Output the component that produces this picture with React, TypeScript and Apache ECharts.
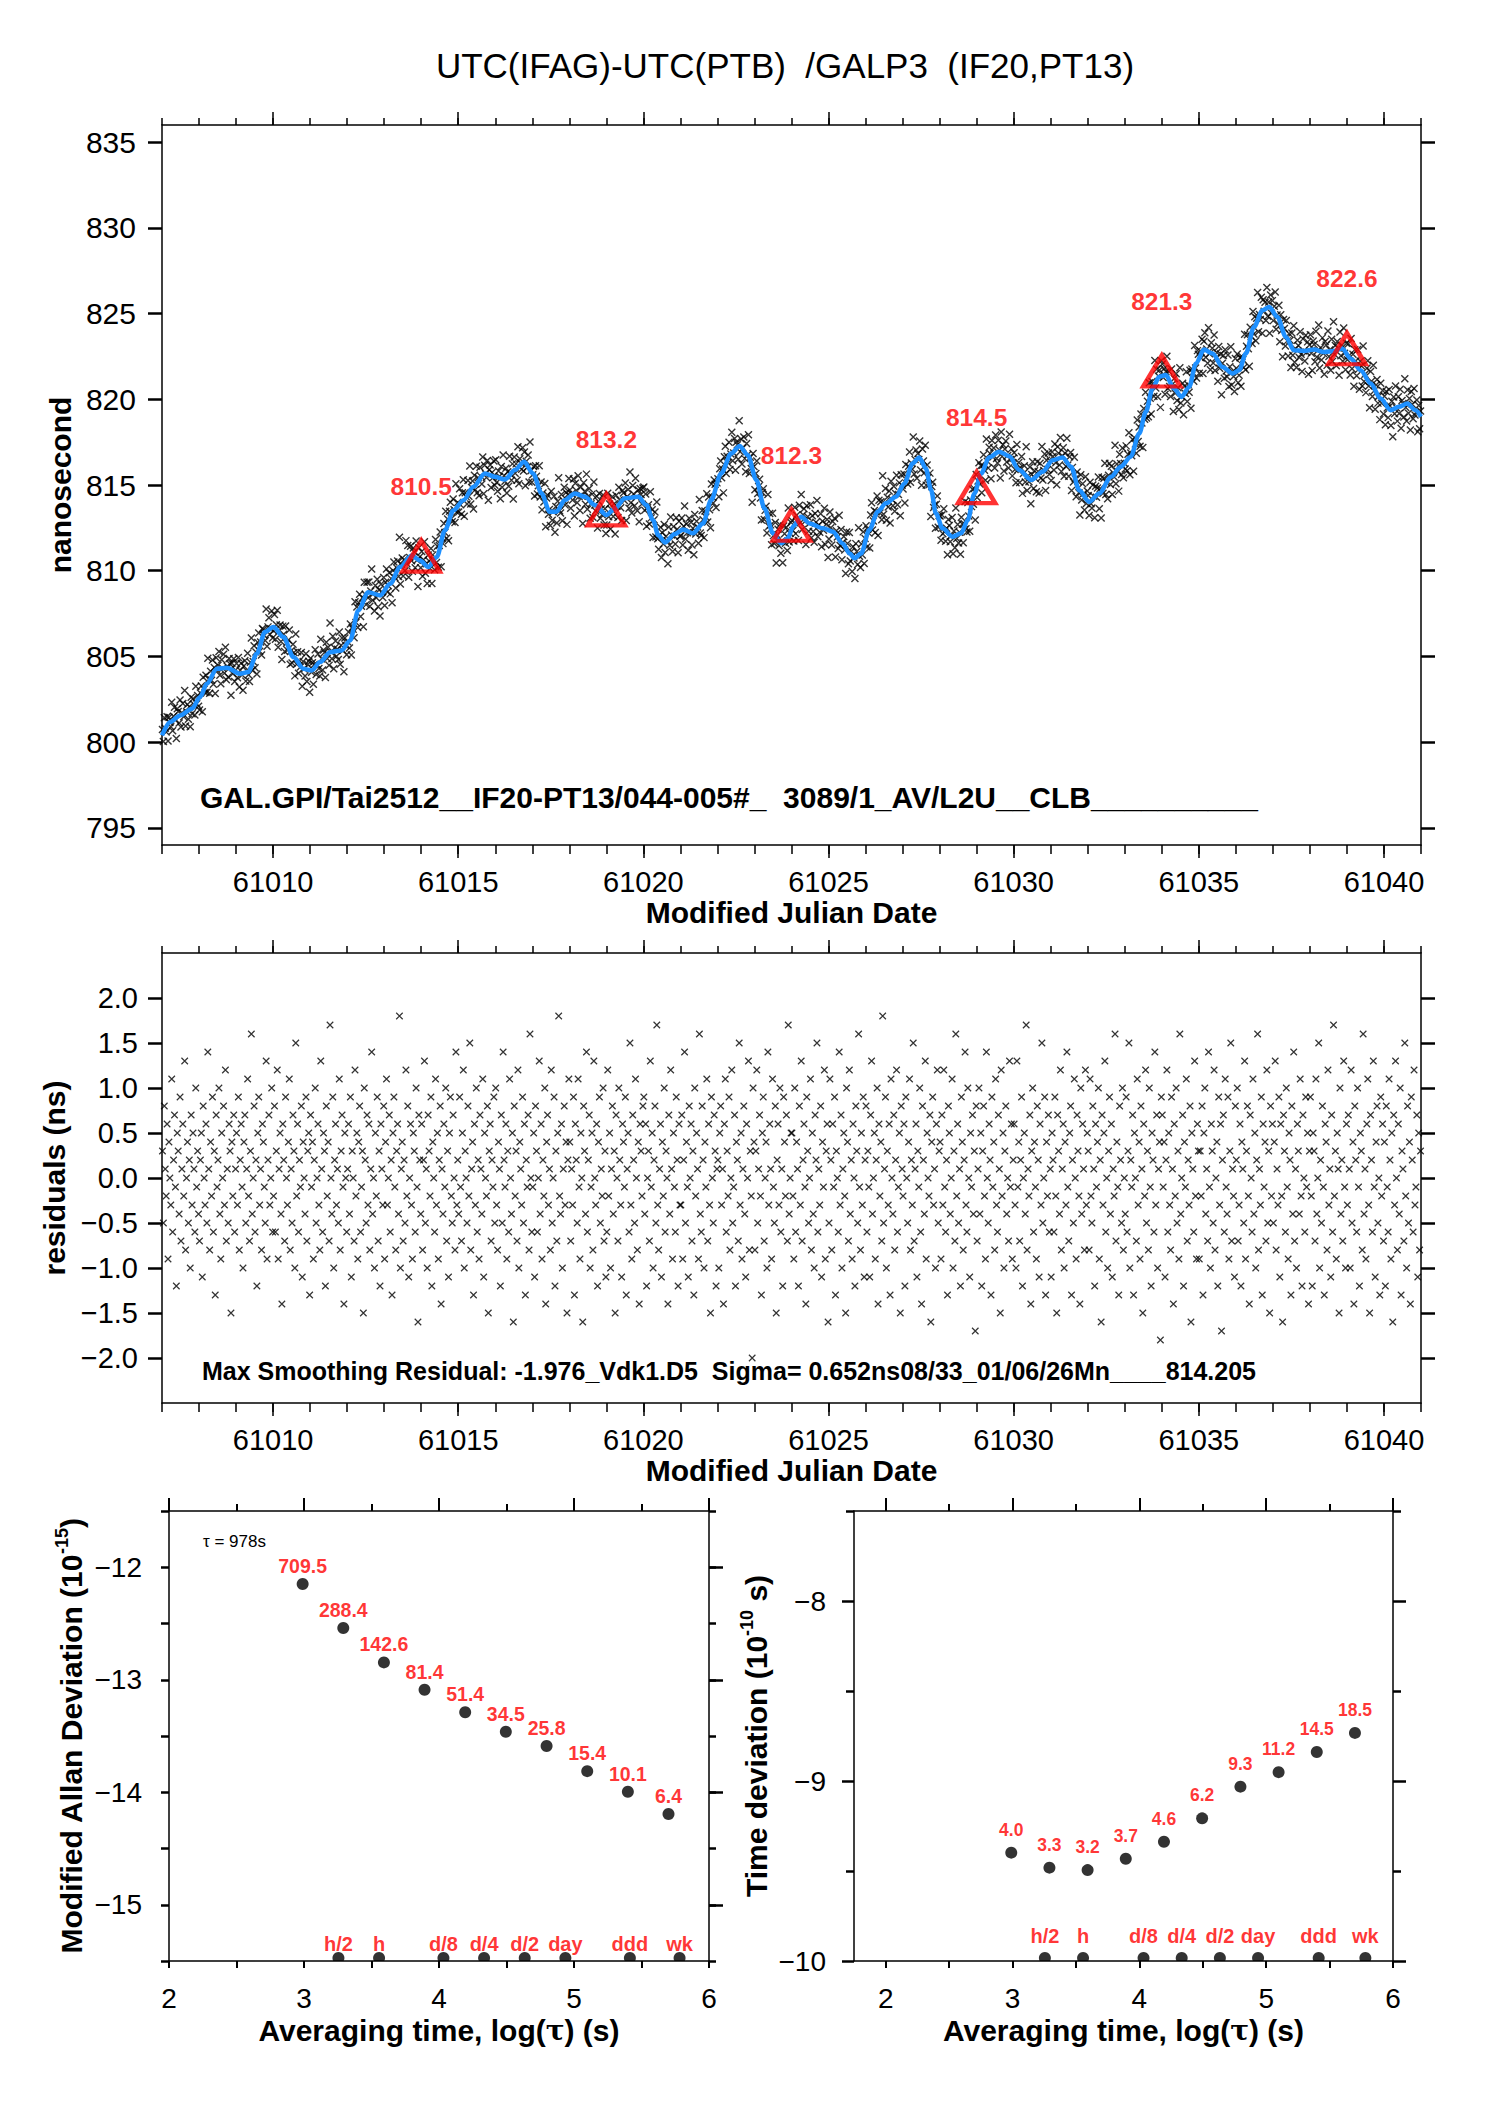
import React, { useEffect, useRef } from "react";
import * as echarts from "echarts";

const FONT = "Liberation Sans";
const MINUS = "\u2212";

const TITLE = "UTC(IFAG)-UTC(PTB)  /GALP3  (IF20,PT13)";
const NOTE_TOP = "GAL.GPI/Tai2512__IF20-PT13/044-005#_  3089/1_AV/L2U__CLB__________";
const NOTE_RES = "Max Smoothing Residual: -1.976_Vdk1.D5  Sigma= 0.652ns08/33_01/06/26Mn____814.205";
const TAU0_NOTE = "\u03c4 = 978s";

const MJD_MIN = 61007;
const MJD_MAX = 61041;
const MJD_LABELS = [61010, 61015, 61020, 61025, 61030, 61035, 61040];
const NS_TICKS = [795, 800, 805, 810, 815, 820, 825, 830, 835];
const RES_TICKS = [-2, -1.5, -1, -0.5, 0, 0.5, 1, 1.5, 2];
const LOGTAU_LABELS = [2, 3, 4, 5, 6];
const LOGTAU_TICKS = [2, 2.5, 3, 3.5, 4, 4.5, 5, 5.5, 6];
const MDEV_Y_LABELS = [-15, -14, -13, -12];
const MDEV_Y_TICKS = [-15.5, -15, -14.5, -14, -13.5, -13, -12.5, -12, -11.5];
const TDEV_Y_LABELS = [-10, -9, -8];
const TDEV_Y_HALF = [-9.5, -8.5, -7.5];

// smoothed curve (MJD, ns)
const SMOOTH_MJD = [61007.00, 61007.22, 61007.49, 61007.81, 61008.03, 61008.21, 61008.48, 61008.75, 61009.11, 61009.33,
  61009.56, 61009.78, 61010.01, 61010.28, 61010.55, 61010.82, 61011.04, 61011.27, 61011.54, 61011.85,
  61012.08, 61012.30, 61012.57, 61012.89, 61013.16, 61013.43, 61013.74, 61013.97, 61014.19, 61014.42,
  61014.64, 61014.87, 61015.14, 61015.41, 61015.72, 61015.99, 61016.26, 61016.53, 61016.78, 61017.02,
  61017.25, 61017.47, 61017.65, 61017.88, 61018.15, 61018.42, 61018.69, 61019.00, 61019.23, 61019.50,
  61019.86, 61020.08, 61020.26, 61020.40, 61020.58, 61020.85, 61021.07, 61021.34, 61021.61, 61021.83,
  61022.10, 61022.37, 61022.60, 61022.82, 61023.05, 61023.27, 61023.50, 61023.72, 61023.90, 61024.05,
  61024.26, 61024.49, 61024.85, 61025.12, 61025.38, 61025.57, 61025.70, 61025.88, 61026.10, 61026.33,
  61026.55, 61026.82, 61027.05, 61027.27, 61027.45, 61027.63, 61027.77, 61027.90, 61028.08, 61028.35,
  61028.58, 61028.76, 61028.94, 61029.12, 61029.34, 61029.61, 61029.88, 61030.15, 61030.47, 61030.78,
  61031.05, 61031.32, 61031.55, 61031.77, 61032.04, 61032.31, 61032.63, 61032.89, 61033.16, 61033.39,
  61033.57, 61033.75, 61033.93, 61034.11, 61034.33, 61034.53, 61034.74, 61034.92, 61035.14, 61035.37,
  61035.64, 61035.91, 61036.09, 61036.27, 61036.49, 61036.72, 61036.90, 61037.12, 61037.35, 61037.57,
  61037.84, 61038.11, 61038.38, 61038.65, 61038.87, 61039.10, 61039.37, 61039.64, 61039.91, 61040.18,
  61040.40, 61040.63, 61040.85, 61041.00];
const SMOOTH_NS = [800.4, 801.17, 801.56, 801.95, 802.63, 803.40, 804.28, 804.34, 803.99, 804.09,
  805.16, 806.42, 806.71, 806.13, 804.96, 804.28, 804.18, 804.67, 805.25, 805.35,
  805.93, 807.68, 808.75, 808.56, 809.24, 810.21, 810.89, 810.60, 810.21, 810.80,
  812.35, 813.52, 814.11, 814.9, 815.67, 815.48, 815.32, 815.87, 816.35, 815.67,
  814.51, 813.44, 813.44, 814.12, 814.51, 814.31, 813.83, 813.25, 813.63, 814.22,
  814.31, 813.83, 812.95, 812.08, 811.65, 812.14, 812.41, 812.18, 812.76, 814.12,
  815.67, 816.84, 817.27, 816.74, 815.29, 813.63, 812.18, 811.60, 811.9, 812.6,
  813.15, 812.76, 812.47, 812.27, 811.59, 811.01, 810.72, 811.01, 812.37, 813.44,
  813.93, 814.31, 815.09, 816.26, 816.61, 815.96, 814.70, 813.34, 812.47, 811.98,
  812.18, 812.95, 814.51, 815.67, 816.61, 816.94, 816.68, 815.87, 815.29, 815.77,
  816.45, 816.61, 816.06, 814.70, 814.02, 814.51, 815.48, 816.06, 816.65, 818.00,
  819.27, 820.63, 821.31, 821.41, 820.63, 820.14, 820.72, 822.08, 822.90, 822.67,
  821.89, 821.50, 821.70, 822.67, 824.22, 825.19, 825.39, 824.80, 823.64, 822.86,
  822.82, 822.90, 822.76, 822.82, 822.96, 822.38, 821.70, 820.92, 820.04, 819.36,
  819.56, 819.75, 819.36, 818.98];

// smoothing residuals, tenths of ns, in time order (evenly spaced epochs)
const RESID_TENTHS = [
  3,-5,8,1,-2,6,-9,4,0,-3,11,-6,2,7,-1,-12,5,3,-4,9,-7,1,6,-2,13,-8,0,4,-5,2,-10,7,-3,5,1,-6,10,-1,3,-4,
  -7,2,5,-11,8,0,-3,6,-5,14,1,-8,4,-2,9,-6,3,-13,7,-1,2,10,-4,-9,5,0,8,-3,12,-7,1,-5,6,3,-15,4,-2,7,-6,1,
  5,-3,9,-8,2,6,-1,-10,4,7,-5,1,11,-2,-7,3,16,-4,0,8,-6,2,-12,5,9,-3,1,-8,6,4,-1,-5,13,-9,2,7,-3,0,10,-6,
  -2,8,-6,3,12,-9,1,5,-4,-14,6,2,-7,9,0,-3,4,11,-8,1,-5,7,3,-10,15,-2,6,-6,2,-1,8,-11,4,0,-4,9,-7,3,5,-13,
  7,-1,4,-9,2,10,-5,0,6,-3,-8,13,1,-6,5,3,-12,8,-2,4,-7,17,0,-4,9,-10,2,6,-3,1,-5,11,-8,3,7,-1,-14,5,0,-6,
  1,6,-4,9,-11,3,0,-7,12,-2,5,-9,4,8,-6,-1,3,-15,10,2,-5,7,-3,6,-8,1,14,-4,0,-10,5,-2,9,-7,3,-12,6,1,-3,8,
  -9,4,11,-3,0,7,-6,2,-13,5,9,-1,-8,3,6,-4,18,-10,1,4,-7,2,-5,12,-2,8,-11,0,6,-3,-9,5,3,-6,10,-1,-16,7,2,-4,
  6,-8,2,13,-5,1,-10,7,3,-2,9,-12,4,0,-6,11,-3,5,-9,2,8,-14,1,-4,6,-1,10,-7,3,-11,5,9,-2,-5,7,0,-8,14,-3,2,
  -4,9,-1,-7,5,12,-10,3,0,-5,8,-2,15,-8,1,4,-13,6,-3,10,-6,2,-9,7,1,-4,11,-11,5,0,-2,8,-15,3,6,-7,2,-1,9,-5,
  10,-3,-8,4,1,-12,7,-5,14,2,-1,6,-9,3,-6,11,0,-4,5,-16,8,-2,3,-7,12,-10,4,1,-3,9,-5,6,-13,2,-1,7,-8,16,0,-6,
  -1,5,-11,8,3,-6,0,13,-4,6,-9,2,-2,10,-14,4,7,-3,1,-8,12,-5,0,9,-12,3,-7,5,18,-2,-4,6,-10,1,8,-3,4,-15,2,11,
  4,-7,1,-3,9,-13,6,2,-5,11,-1,-9,5,0,-16,8,3,-4,14,-6,2,7,-10,-1,5,-8,13,0,-3,6,-12,4,9,-5,1,-2,10,-7,3,-11,
  -6,12,-2,5,-10,1,8,-4,3,-15,7,0,-7,10,2,-3,-11,6,4,-1,9,-13,1,5,-6,15,-3,-9,7,2,-5,11,0,-8,4,-14,6,3,-2,8,
  9,-4,6,-12,0,3,-7,13,-1,5,-10,2,8,-5,17,-3,-8,1,6,-11,4,-2,10,-6,3,0,-14,7,-4,12,1,-9,5,-1,-6,9,2,-12,6,-3,
  -3,7,-9,2,14,-5,4,-1,-11,8,0,6,-7,3,-13,10,-2,5,1,-9,16,-4,-6,8,2,-10,4,-1,11,-7,6,-3,-15,9,0,-5,7,3,-12,1,
  2,-10,5,8,-3,1,-14,6,11,-6,3,-2,9,-8,0,12,-5,-1,7,-12,4,2,-7,15,-3,5,-9,1,8,-4,-11,6,0,13,-8,3,-2,-20,10,4,
  -8,3,12,-5,1,7,-2,-13,5,9,-7,0,4,-10,14,-3,6,1,-9,11,-1,-5,8,-15,2,6,-3,10,-6,1,-12,9,4,-2,7,-7,17,-4,0,5,
  5,-2,-9,10,-6,4,1,-12,8,-3,13,-7,2,6,-1,-14,9,3,-5,0,11,-8,5,-4,-10,7,2,15,-6,1,-3,8,-11,4,-1,12,-9,3,6,-16,
  -5,11,2,-8,6,-1,9,-13,3,0,-6,14,-3,7,-10,1,5,-2,-15,10,4,-7,12,-4,2,-9,6,0,-12,8,3,-5,16,-1,-8,5,-3,9,-11,2,
  8,-6,3,-1,-11,7,13,-4,0,5,-9,2,10,-14,6,-2,4,-7,18,-5,1,9,-10,3,-3,6,-13,11,0,-4,7,-8,2,12,-6,-1,5,-15,8,1,
  -2,6,-12,9,0,-5,4,11,-8,2,-3,15,-7,1,6,-11,3,-1,10,-6,-14,8,2,-4,13,-9,5,0,-2,7,-16,4,9,-3,1,-10,6,12,-5,3,
  4,-9,7,-3,12,-1,-6,2,-13,8,5,-4,0,11,-10,3,-7,16,-2,6,-5,1,-12,9,4,-8,2,14,-3,-6,10,0,-11,5,-1,7,-4,3,-17,8,
  -7,1,10,-4,5,-12,3,8,-2,-9,14,0,-5,6,2,-13,9,-1,4,-8,11,-3,-6,7,1,-15,12,-2,5,-10,3,8,-4,0,-7,13,-1,6,-9,2,
  6,-3,-10,13,-1,4,-7,2,9,-12,0,5,-4,17,-8,1,-2,7,-14,3,10,-6,4,-1,-9,8,2,-11,6,-3,15,-5,0,9,-13,4,-2,7,-6,1,
  -11,5,2,-6,9,-2,-15,7,3,-4,12,-8,1,6,-10,4,-3,14,-1,-7,5,8,-13,2,-5,11,0,-9,7,3,-2,-14,10,-4,6,1,-8,12,-3,5,
  3,-8,11,-2,-5,8,1,-12,6,-1,4,10,-9,2,-16,7,-3,5,13,-6,0,-10,3,9,-4,6,-11,1,-2,16,-7,4,-1,-13,8,2,-5,10,-8,0,
  -4,9,-6,3,15,-10,2,-1,7,-13,5,0,-7,11,-3,4,-9,8,1,-15,6,-2,12,-5,3,-8,10,-1,-12,5,2,-6,14,-3,7,-10,1,4,-18,9,
  7,-1,4,-11,2,12,-6,5,-3,-8,9,1,-14,6,-2,10,-5,3,-9,16,-4,0,7,-12,4,-1,11,-7,2,-3,8,-16,5,1,-6,13,-2,-9,6,3,
  -9,3,-2,8,-13,5,10,-4,1,-7,14,-1,-10,6,3,-5,12,-8,0,4,-12,9,-3,6,-17,2,7,-6,11,-1,-4,9,-9,3,15,-7,1,-2,-11,8,
  2,10,-7,-3,6,-12,4,1,-5,13,-9,3,8,-2,-14,7,0,-6,11,-4,5,-10,2,16,-8,1,-3,9,-13,6,-1,4,-7,12,-5,3,-15,8,-2,6,
  -5,4,13,-8,1,-3,9,-11,6,-2,-16,7,3,-6,10,-1,-9,5,2,-13,8,-4,14,-7,1,-10,6,3,-4,11,-2,-12,7,0,-6,9,-1,5,-14,3,
  9,-2,-12,5,3,-7,11,-4,0,15,-10,2,-5,8,-1,-13,6,4,-8,12,-3,1,-11,7,-6,17,-2,3,-9,5,1,-15,10,-4,2,-7,13,-1,-10,6,
  -3,7,1,-10,12,-5,4,-14,8,2,-6,10,-1,-12,5,3,-8,16,-4,1,-9,6,11,-3,-15,7,2,-6,13,-1,-11,4,8,-5,0,-13,9,-2,6,-7,
  4,-12,8,-1,-6,11,2,-9,5,-16,7,-3,13,0,-8,6,-4,10,-13,3,1,-7,15,-2,-10,8,-5,4,-14,9,2,-6,12,-3,-1,7,-11,5,-8,3,
];

// 5-day marks (triangles)
const TRI_MJD = [61014, 61019, 61024, 61029, 61034, 61039];
const TRI_NS = [810.5, 813.2, 812.3, 814.5, 821.3, 822.6];

// stability
const LOG_TAU = [2.990, 3.291, 3.592, 3.893, 4.194, 4.495, 4.797, 5.098, 5.399, 5.700];
const MDEV_E15 = [709.5, 288.4, 142.6, 81.4, 51.4, 34.5, 25.8, 15.4, 10.1, 6.4];
const TDEV_E10 = [4.0, 3.3, 3.2, 3.7, 4.6, 6.2, 9.3, 11.2, 14.5, 18.5];
const MARK_NAMES = ["h/2", "h", "d/8", "d/4", "d/2", "day", "ddd", "wk"];
const MARK_LOG_TAU = [3.255, 3.556, 4.033, 4.334, 4.635, 4.936, 5.414, 5.782];

const XPATH = "path://M0,0L10,10M10,0L0,10";
const HALFDOT = "path://M0.8,9A6,6,0,1,1,11.2,9Z";

function smoothAt(t: number): number {
  const n = SMOOTH_MJD.length;
  if (t <= SMOOTH_MJD[0]) return SMOOTH_NS[0];
  for (let i = 0; i < n - 1; i++) {
    if (t <= SMOOTH_MJD[i + 1]) {
      const f = (t - SMOOTH_MJD[i]) / (SMOOTH_MJD[i + 1] - SMOOTH_MJD[i]);
      return SMOOTH_NS[i] + f * (SMOOTH_NS[i + 1] - SMOOTH_NS[i]);
    }
  }
  return SMOOTH_NS[n - 1];
}

const signed = (v: number, d: number) => (v < 0 ? MINUS : "") + Math.abs(v).toFixed(d);

function ax(grid: number, position: string, min: number, max: number, ticks: number[], len: number, width: number, line: boolean, extra: any = {}) {
  return {
    type: "value",
    gridIndex: grid,
    position,
    min,
    max,
    axisLine: { show: line, onZero: false, lineStyle: { color: "#000", width: 1.5 } },
    axisTick: { show: true, inside: false, length: len, customValues: ticks, lineStyle: { color: "#000", width } },
    axisLabel: { show: false },
    splitLine: { show: false },
    minorTick: { show: false },
    ...extra,
  };
}

function lab(values: number[], fontSize: number, margin: number, formatter?: (v: number) => string) {
  return {
    show: true,
    customValues: values,
    fontSize,
    margin,
    color: "#000",
    fontFamily: FONT,
    formatter: formatter || ((v: number) => String(v)),
  };
}

const boldName = (size: number) => ({ fontFamily: FONT, fontWeight: "bold", fontSize: size, color: "#000" });

function buildOption() {
  const days: number[] = [];
  for (let d = MJD_MIN; d <= MJD_MAX; d++) days.push(d);

  const step = (MJD_MAX - MJD_MIN) / RESID_TENTHS.length;
  const topPts: number[][] = [];
  const resPts: number[][] = [];
  RESID_TENTHS.forEach((r, k) => {
    const t = MJD_MIN + (k + 0.5) * step;
    topPts.push([t, smoothAt(t) + r / 10]);
    resPts.push([t, r / 10]);
  });
  const smoothLine = SMOOTH_MJD.map((t, i) => [t, SMOOTH_NS[i]]);
  const tri = TRI_MJD.map((t, i) => [t, TRI_NS[i]]);
  const mdev = LOG_TAU.map((x, i) => [x, Math.log10(MDEV_E15[i]) - 15, MDEV_E15[i]]);
  const tdev = LOG_TAU.map((x, i) => [x, Math.log10(TDEV_E10[i]) - 10, TDEV_E10[i]]);
  const marksM = MARK_LOG_TAU.map((x, i) => [x, -15.5, MARK_NAMES[i]]);
  const marksT = MARK_LOG_TAU.map((x, i) => [x, -10, MARK_NAMES[i]]);

  const redLabel = (size: number, dy: number, fmt: (p: any) => string) => ({
    show: true,
    position: "inside",
    offset: [0, dy],
    color: "#ff0000",
    fontWeight: "bold",
    fontSize: size,
    fontFamily: FONT,
    formatter: fmt,
  });
  const invisible = { color: "rgba(0,0,0,0)" };
  const xStyle = { color: "rgba(0,0,0,0)", borderColor: "#000", borderWidth: 1.4 };

  const tauName = "{a|Averaging time, log(}{t|\u03c4}{a|) (s)}";
  const tauNameStyle = { ...boldName(30), rich: { a: boldName(30), t: { fontFamily: "DejaVu Serif", fontSize: 28, color: "#000" } } };

  const xAxis = [
    // grid 0
    ax(0, "bottom", MJD_MIN, MJD_MAX, days, 9, 1.5, true, {
      axisLabel: lab(MJD_LABELS, 29, 22),
      name: "Modified Julian Date", nameLocation: "middle", nameGap: 52, nameTextStyle: boldName(30),
    }),
    ax(0, "bottom", MJD_MIN, MJD_MAX, MJD_LABELS, 13, 1.5, false),
    ax(0, "top", MJD_MIN, MJD_MAX, days, 7, 1.5, true),
    ax(0, "top", MJD_MIN, MJD_MAX, MJD_LABELS, 13, 1.5, false),
    // grid 1
    ax(1, "bottom", MJD_MIN, MJD_MAX, days, 9, 1.5, true, {
      axisLabel: lab(MJD_LABELS, 29, 22),
      name: "Modified Julian Date", nameLocation: "middle", nameGap: 52, nameTextStyle: boldName(30),
    }),
    ax(1, "bottom", MJD_MIN, MJD_MAX, MJD_LABELS, 13, 1.5, false),
    ax(1, "top", MJD_MIN, MJD_MAX, days, 7, 1.5, true),
    ax(1, "top", MJD_MIN, MJD_MAX, MJD_LABELS, 13, 1.5, false),
    // grid 2
    ax(2, "bottom", 2, 6, LOGTAU_TICKS, 7, 2, true, {
      axisLabel: lab(LOGTAU_LABELS, 28, 23),
      name: tauName, nameLocation: "middle", nameGap: 54, nameTextStyle: tauNameStyle,
    }),
    ax(2, "top", 2, 6, LOGTAU_TICKS, 7, 2, true),
    ax(2, "top", 2, 6, LOGTAU_LABELS, 13, 2, false),
    // grid 3
    ax(3, "bottom", 1.75, 6, LOGTAU_TICKS, 7, 2, true, {
      axisLabel: lab(LOGTAU_LABELS, 28, 23),
      name: tauName, nameLocation: "middle", nameGap: 54, nameTextStyle: tauNameStyle,
    }),
    ax(3, "top", 1.75, 6, LOGTAU_TICKS, 7, 2, true),
    ax(3, "top", 1.75, 6, LOGTAU_LABELS, 13, 2, false),
  ];

  const supStyle = { ...boldName(30), rich: { a: { ...boldName(30), lineHeight: 36 }, s: { ...boldName(18), lineHeight: 18, verticalAlign: "top" } } };

  const yAxis = [
    ax(0, "left", 794, 836, NS_TICKS, 14, 2.5, true, {
      axisLabel: lab(NS_TICKS, 30, 26),
      name: "nanosecond", nameLocation: "middle", nameGap: 78, nameRotate: 90, nameTextStyle: boldName(30),
    }),
    ax(0, "right", 794, 836, NS_TICKS, 14, 2.5, true),
    ax(1, "left", -2.5, 2.5, RES_TICKS, 14, 2.5, true, {
      axisLabel: lab(RES_TICKS, 29, 24, (v) => signed(v, 1)),
      name: "residuals (ns)", nameLocation: "middle", nameGap: 88, nameRotate: 90, nameTextStyle: boldName(30),
    }),
    ax(1, "right", -2.5, 2.5, RES_TICKS, 14, 2.5, true),
    ax(2, "left", -15.5, -11.5, MDEV_Y_TICKS, 8, 2.5, true, {
      axisLabel: lab(MDEV_Y_LABELS, 28, 27, (v) => signed(v, 0)),
      name: "{a|Modified Allan Deviation (10}{s|-15}{a|)}", nameLocation: "middle", nameGap: 80, nameRotate: 90,
      nameTextStyle: supStyle,
    }),
    ax(2, "right", -15.5, -11.5, MDEV_Y_TICKS, 7, 2.5, true),
    ax(2, "right", -15.5, -11.5, MDEV_Y_LABELS, 14, 2.5, false),
    ax(3, "left", -10, -7.5, TDEV_Y_LABELS, 12, 2.5, true, {
      axisLabel: lab(TDEV_Y_LABELS, 28, 28, (v) => signed(v, 0)),
      name: "{a|Time deviation (10}{s|-10}{a| s)}", nameLocation: "middle", nameGap: 80, nameRotate: 90,
      nameTextStyle: supStyle,
    }),
    ax(3, "left", -10, -7.5, TDEV_Y_HALF, 8, 2.5, false),
    ax(3, "right", -10, -7.5, TDEV_Y_LABELS, 13, 2.5, true),
    ax(3, "right", -10, -7.5, TDEV_Y_HALF, 8, 2.5, false),
  ];

  const series: any[] = [
    {
      type: "scatter", xAxisIndex: 0, yAxisIndex: 0, data: topPts, symbol: XPATH, symbolSize: 7,
      itemStyle: xStyle, silent: true, z: 2,
    },
    {
      type: "line", xAxisIndex: 0, yAxisIndex: 0, data: smoothLine, smooth: 0.3, smoothMonotone: "x",
      showSymbol: false, symbol: "none", lineStyle: { color: "#1e90ff", width: 4.5 }, silent: true, z: 3,
    },
    {
      type: "scatter", xAxisIndex: 0, yAxisIndex: 0, data: tri, symbol: "triangle", symbolSize: [37, 31],
      symbolOffset: [0, -6], itemStyle: { color: "rgba(0,0,0,0)", borderColor: "#ff0000", borderWidth: 4.5 }, z: 4, silent: true,
    },
    {
      type: "scatter", xAxisIndex: 0, yAxisIndex: 0, data: tri, symbolSize: 1, itemStyle: invisible, z: 5, silent: true,
      label: redLabel(24.5, -76, (p: any) => p.data[1].toFixed(1)),
    },
    {
      type: "scatter", xAxisIndex: 4, yAxisIndex: 2, data: resPts, symbol: XPATH, symbolSize: 6.5,
      itemStyle: { ...xStyle, borderWidth: 1.2 }, silent: true,
    },
    {
      type: "scatter", xAxisIndex: 8, yAxisIndex: 4, data: mdev, symbol: "circle", symbolSize: 12,
      itemStyle: { color: "#000" }, silent: true,
      label: redLabel(19.5, -18, (p: any) => p.data[2].toFixed(1)),
    },
    {
      type: "scatter", xAxisIndex: 8, yAxisIndex: 4, data: marksM, symbol: HALFDOT, symbolSize: [12, 9],
      symbolOffset: [0, -4.5], itemStyle: { color: "#000" }, silent: true, clip: false,
    },
    {
      type: "scatter", xAxisIndex: 8, yAxisIndex: 4, data: marksM, symbolSize: 1, itemStyle: invisible, silent: true, clip: false,
      label: redLabel(20, -17.5, (p: any) => p.data[2]),
    },
    {
      type: "scatter", xAxisIndex: 11, yAxisIndex: 7, data: tdev, symbol: "circle", symbolSize: 12,
      itemStyle: { color: "#000" }, silent: true,
      label: redLabel(17.5, -23, (p: any) => p.data[2].toFixed(1)),
    },
    {
      type: "scatter", xAxisIndex: 11, yAxisIndex: 7, data: marksT, symbol: HALFDOT, symbolSize: [12, 9],
      symbolOffset: [0, -4.5], itemStyle: { color: "#000" }, silent: true, clip: false,
    },
    {
      type: "scatter", xAxisIndex: 11, yAxisIndex: 7, data: marksT, symbolSize: 1, itemStyle: invisible, silent: true, clip: false,
      label: redLabel(20, -25, (p: any) => p.data[2]),
    },
  ];

  const txt = (text: string, x: number, y: number, size: number, weight: string, align: string) => ({
    type: "text",
    x,
    y,
    silent: true,
    style: { text, fill: "#000", fontSize: size, fontWeight: weight, fontFamily: FONT, textAlign: align, textVerticalAlign: "middle" },
  });

  return {
    animation: false,
    backgroundColor: "#fff",
    textStyle: { fontFamily: FONT },
    grid: [
      { left: 162, top: 125, width: 1259, height: 720, containLabel: false, outerBoundsMode: "none" },
      { left: 162, top: 953, width: 1259, height: 450, containLabel: false, outerBoundsMode: "none" },
      { left: 169, top: 1511, width: 540, height: 450, containLabel: false, outerBoundsMode: "none" },
      { left: 854, top: 1511, width: 539, height: 450, containLabel: false, outerBoundsMode: "none" },
    ],
    xAxis,
    yAxis,
    series,
    graphic: [
      txt(TITLE, 785, 65, 35, "normal", "center"),
      txt(NOTE_TOP, 200, 797, 30, "bold", "left"),
      txt(NOTE_RES, 202, 1371, 25, "bold", "left"),
      txt(TAU0_NOTE, 203, 1541, 17, "normal", "left"),
    ],
  };
}

export default function App() {
  const ref = useRef<HTMLDivElement>(null);
  useEffect(() => {
    if (!ref.current) return;
    const chart = echarts.init(ref.current, null, { renderer: "svg" });
    chart.setOption(buildOption() as any);
    return () => chart.dispose();
  }, []);
  return (
    <div
      ref={ref}
      style={{ position: "absolute", left: 0, top: 0, width: 1488, height: 2105, background: "#fff" }}
    />
  );
}
